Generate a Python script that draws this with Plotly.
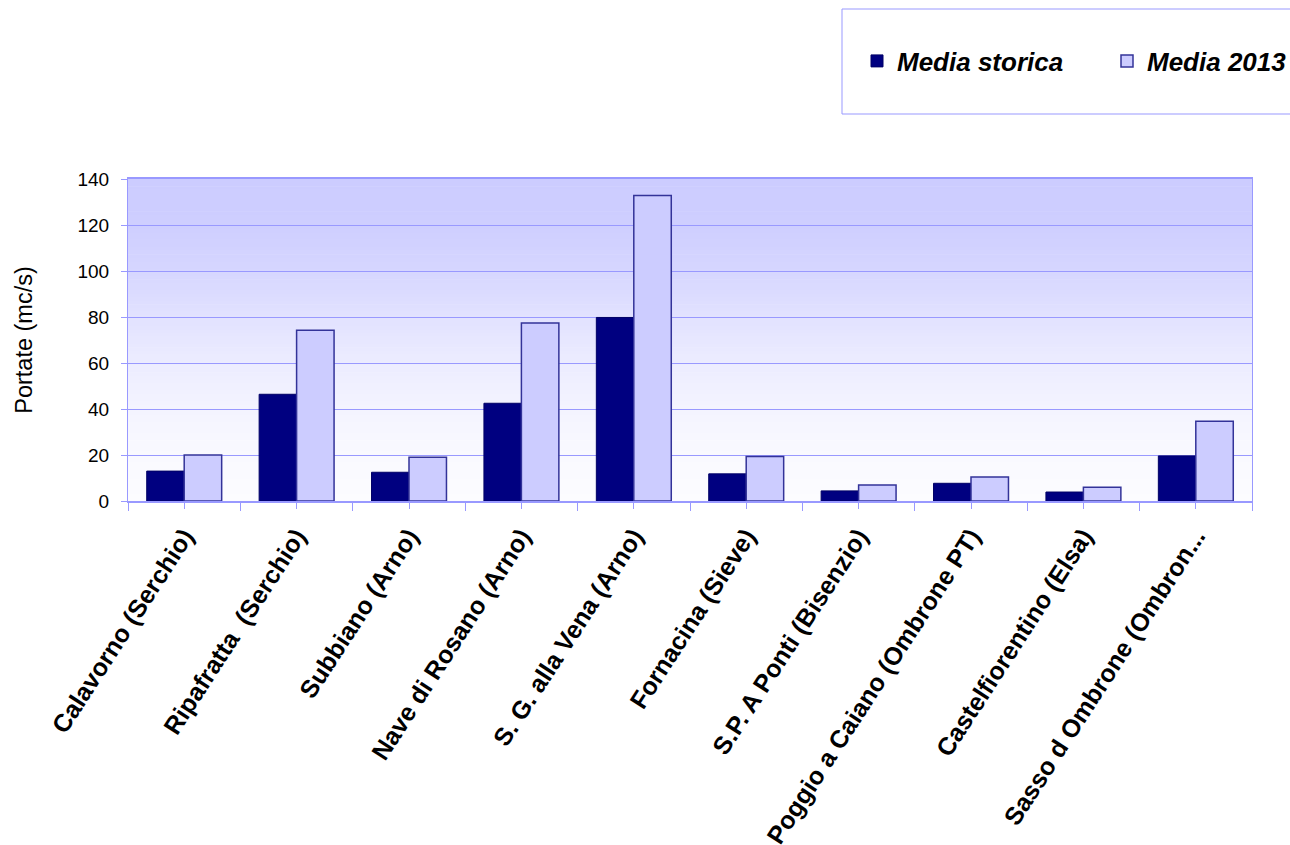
import plotly.graph_objects as go

categories = [
    "Calavorno (Serchio)",
    "Ripafratta \u00a0(Serchio)",
    "Subbiano (Arno)",
    "Nave di Rosano (Arno)",
    "S. G. alla Vena (Arno)",
    "Fornacina (Sieve)",
    "S.P. A Ponti (Bisenzio)",
    "Poggio a Caiano (Ombrone PT)",
    "Castelfiorentino (Elsa)",
    "Sasso d Ombrone (Ombron...",
]
media_storica = [13.0, 46.4, 12.5, 42.5, 79.8, 11.8, 4.4, 7.7, 3.9, 19.6]
media_2013 = [20.0, 74.2, 19.0, 77.4, 132.8, 19.4, 7.0, 10.4, 6.0, 34.7]
y_ticks = [0, 20, 40, 60, 80, 100, 120, 140]

FONT = "Liberation Sans, Arial, sans-serif"
GRID = "#9999FF"

xpos = list(range(len(categories)))

fig = go.Figure()
fig.add_trace(go.Bar(
    x=xpos, y=media_storica, name="Media storica",
    marker=dict(color="#000080", line=dict(color="#000066", width=1)),
))
fig.add_trace(go.Bar(
    x=xpos, y=media_2013, name="Media 2013",
    marker=dict(color="#CCCCFF", line=dict(color="#333399", width=1.5)),
))

# background gradient strips (styling only)
stops = [(0.0, 204), (0.143, 206), (0.286, 214), (0.429, 226), (0.571, 236),
         (0.714, 244), (0.857, 249), (1.0, 252)]

def shade(t):
    for (t0, c0), (t1, c1) in zip(stops[:-1], stops[1:]):
        if t0 <= t <= t1:
            return c0 + (c1 - c0) * (t - t0) / (t1 - t0)
    return stops[-1][1]

shapes = []
N = 90
for i in range(N):
    t = (i + 0.5) / N
    c = int(round(shade(t)))
    shapes.append(dict(
        type="rect", xref="x domain", yref="y domain",
        x0=0, x1=1, y0=1 - (i + 1) / N - 0.002, y1=1 - i / N,
        fillcolor=f"rgb({c},{c},255)", line=dict(width=0), layer="below",
    ))

# legend frame
shapes.append(dict(
    type="rect", xref="paper", yref="paper",
    x0=(842 - 128) / 1124, x1=1.1, y0=1 + (179 - 114) / 322, y1=1 + (179 - 9) / 322,
    line=dict(color=GRID, width=1), fillcolor="rgba(0,0,0,0)", layer="above",
))

n = len(categories)
fig.update_layout(
    width=1290, height=845,
    margin=dict(l=128, r=38, t=179, b=344, autoexpand=False),
    paper_bgcolor="white",
    plot_bgcolor="rgba(0,0,0,0)",
    barmode="group",
    bargap=1 / 3,
    bargroupgap=0,
    shapes=shapes,
    showlegend=True,
    legend=dict(
        orientation="h",
        x=(857 - 128) / 1124, xanchor="left",
        y=1 + (179 - 61) / 322, yanchor="middle",
        font=dict(family=FONT, size=26, color="black", weight="bold", style="italic"),
        bgcolor="rgba(0,0,0,0)",
        borderwidth=0,
        entrywidth=205, entrywidthmode="pixels",
        traceorder="normal",
    ),
    xaxis=dict(
        range=[-0.5, n - 0.5],
        tickmode="array", tickvals=xpos, ticktext=categories,
        tickangle=-57,
        tickfont=dict(family=FONT, size=25, color="black", weight="bold"),
        ticks="outside", ticklen=6, tickcolor=GRID, tickwidth=1,
        ticklabelstandoff=3,
        minor=dict(tickmode="array", tickvals=[i - 0.5 for i in range(n + 1)],
                   ticks="outside", ticklen=8, tickcolor=GRID, tickwidth=1,
                   showgrid=False),
        showgrid=False, zeroline=False,
        showline=True, linecolor=GRID, linewidth=1.5, mirror=True,
    ),
    yaxis=dict(
        range=[0, 140],
        tickmode="array", tickvals=y_ticks,
        tickfont=dict(family=FONT, size=19, color="black"),
        ticks="outside", ticklen=6, tickcolor=GRID, tickwidth=1,
        ticklabelstandoff=8,
        showgrid=True, gridcolor=GRID, gridwidth=1,
        zeroline=False,
        showline=True, linecolor=GRID, linewidth=1, mirror=True,
        title=dict(text="Portate (mc/s)", font=dict(family=FONT, size=23.5, color="black"),
                   standoff=38),
    ),
)

fig.write_html("out.html")
